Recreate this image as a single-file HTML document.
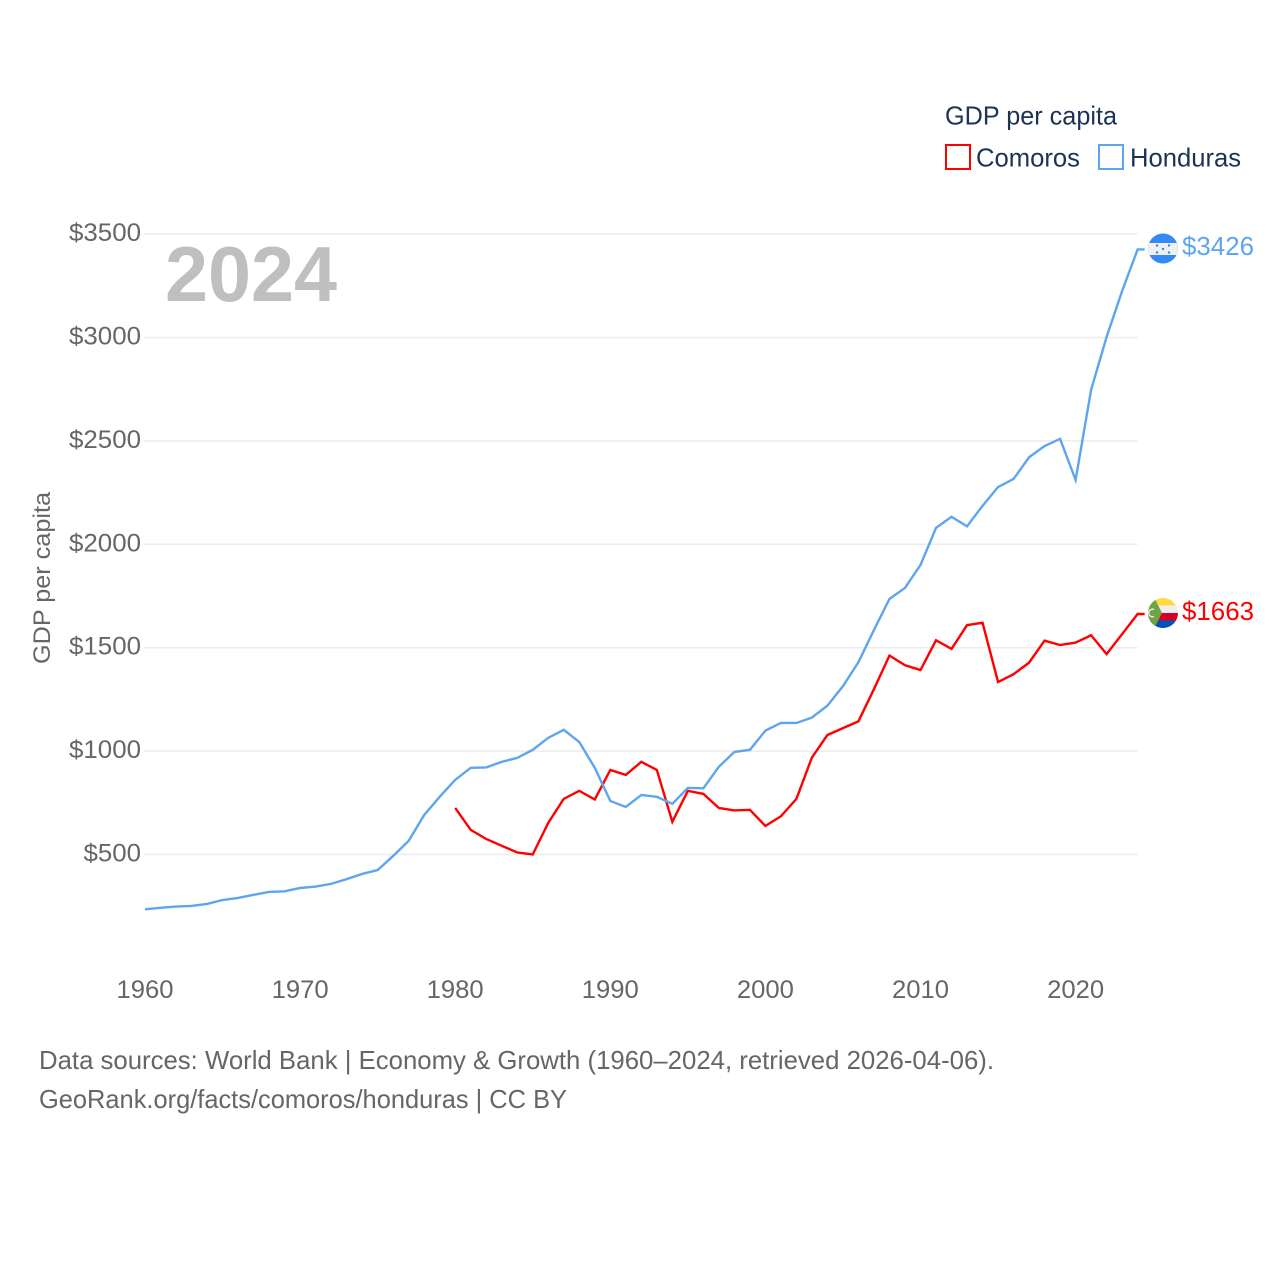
<!DOCTYPE html>
<html lang="en">
<head>
<meta charset="utf-8">
<title>GDP per capita: Comoros vs Honduras</title>
<style>
html,body{margin:0;padding:0;background:#fff;width:1280px;height:1280px;overflow:hidden}
svg{display:block}
text{font-family:"Liberation Sans",sans-serif}
</style>
</head>
<body>
<svg id="chart" width="1280" height="1280" viewBox="0 0 1280 1280" xmlns="http://www.w3.org/2000/svg">
  <defs>
    <clipPath id="hn-clip"><circle cx="1163" cy="248.5" r="15"/></clipPath>
    <clipPath id="km-clip"><circle cx="1163" cy="613" r="15"/></clipPath>
  </defs>
  <g id="grid"></g>
  <g id="yticks"></g>
  <g id="xticks"></g>
  <text x="165" y="301" font-size="78" font-weight="700" fill="#bfbfbf" textLength="172" lengthAdjust="spacingAndGlyphs">2024</text>
  <text transform="translate(50,664) rotate(-90)" font-size="24" fill="#666" textLength="172" lengthAdjust="spacingAndGlyphs">GDP per capita</text>
  <g id="series"></g>
  <g clip-path="url(#hn-clip)">
    <rect x="1148" y="233" width="30" height="31" fill="#338af3"/>
    <rect x="1148" y="243" width="30" height="12" fill="#f0f0f0"/>
    <g fill="#338af3">
      <circle cx="1157" cy="245.5" r="1.2"/><circle cx="1169" cy="245.5" r="1.2"/>
      <circle cx="1163" cy="249" r="1.2"/>
      <circle cx="1157" cy="252.5" r="1.2"/><circle cx="1169" cy="252.5" r="1.2"/>
    </g>
  </g>
  <g clip-path="url(#km-clip)">
    <rect x="1148" y="598" width="30" height="8" fill="#ffda44"/>
    <rect x="1148" y="605.5" width="30" height="7.5" fill="#f0f0f0"/>
    <rect x="1148" y="613" width="30" height="7.5" fill="#d80027"/>
    <rect x="1148" y="620.5" width="30" height="8" fill="#0052b4"/>
    <polygon points="1146,597 1154,597 1162,613 1154,629 1146,629" fill="#6da544"/>
    <path d="M1154,609.5 A3.8,3.8 0 1 0 1154,616.5" fill="none" stroke="#f0f0f0" stroke-width="1.3"/>
  </g>
  <text id="hn-value" x="1182" y="255" font-size="26" fill="#5ea5ee" textLength="72" lengthAdjust="spacingAndGlyphs"></text>
  <text id="km-value" x="1182" y="620" font-size="26" fill="#ff0000" textLength="72" lengthAdjust="spacingAndGlyphs"></text>
  <g>
    <text x="945" y="124.5" font-size="26" fill="#1b3355" textLength="172" lengthAdjust="spacingAndGlyphs">GDP per capita</text>
    <g>
      <rect x="946" y="145" width="24" height="24" fill="#fff" stroke="#ff0000" stroke-width="2"/>
      <text x="976" y="166.5" font-size="26" fill="#1b3355" textLength="104" lengthAdjust="spacingAndGlyphs">Comoros</text>
    </g>
    <g>
      <rect x="1099" y="145" width="24" height="24" fill="#fff" stroke="#5ea5ee" stroke-width="2"/>
      <text x="1130" y="166.5" font-size="26" fill="#1b3355" textLength="111" lengthAdjust="spacingAndGlyphs">Honduras</text>
    </g>
  </g>
  <g>
    <text x="39" y="1069" font-size="26" fill="#666" textLength="955" lengthAdjust="spacingAndGlyphs">Data sources: World Bank | Economy &amp; Growth (1960–2024, retrieved 2026-04-06).</text>
    <text x="39" y="1108" font-size="26" fill="#666" textLength="528" lengthAdjust="spacingAndGlyphs">GeoRank.org/facts/comoros/honduras | CC BY</text>
  </g>
</svg>
<script>
const yTickValues = [500, 1000, 1500, 2000, 2500, 3000, 3500];
const xTickYears = [1960, 1970, 1980, 1990, 2000, 2010, 2020];
const hondurasStartYear = 1960;
const hondurasValues = [235, 242, 248, 251, 261, 280, 290, 305, 319, 322, 338, 345, 358, 381, 406, 425, 493, 566, 691, 779, 861, 919, 921, 948, 967, 1006, 1064, 1103, 1044, 919, 759, 730, 788, 779, 745, 822, 820, 924, 996, 1006, 1099, 1136, 1136, 1162, 1220, 1314, 1430, 1586, 1736, 1789, 1900, 2079, 2133, 2087, 2186, 2277, 2316, 2421, 2475, 2510, 2311, 2747, 3003, 3225, 3426];
const comorosStartYear = 1980;
const comorosValues = [725, 619, 575, 542, 510, 500, 653, 769, 808, 766, 909, 885, 948, 909, 658, 808, 793, 725, 713, 716, 638, 685, 769, 969, 1078, 1111, 1144, 1300, 1462, 1415, 1392, 1536, 1494, 1609, 1621, 1334, 1372, 1428, 1534, 1513, 1525, 1560, 1469, 1566, 1663];

const NS = 'http://www.w3.org/2000/svg';
function xScale(year) { return 145 + (year - 1960) * 15.51; }
function yScale(v) { return 957.9 - v * 0.2068; }
function make(tag, attrs, parent) {
  const el = document.createElementNS(NS, tag);
  for (const k in attrs) el.setAttribute(k, attrs[k]);
  parent.appendChild(el);
  return el;
}
const gridG = document.getElementById('grid');
const yG = document.getElementById('yticks');
const xG = document.getElementById('xticks');
const seriesG = document.getElementById('series');

yTickValues.forEach(function (v) {
  const line = make('line', {x1: 144, x2: 1137.5, y1: yScale(v), y2: yScale(v), stroke: '#ececec', 'stroke-width': 1.5}, gridG);
  
  
  const label = make('text', {x: 141, y: yScale(v) + 7, 'text-anchor': 'end', 'font-size': 25, fill: '#666', textLength: String(v).length * 14.5 + 14, lengthAdjust: 'spacingAndGlyphs'}, yG);
  
  
  label.textContent = '$' + v;
});
xTickYears.forEach(function (yr) {
  const label = make('text', {x: xScale(yr), y: 998, 'text-anchor': 'middle', 'font-size': 25, fill: '#666', textLength: 57, lengthAdjust: 'spacingAndGlyphs'}, xG);
  
  
  label.textContent = String(yr);
});
function drawSeries(values, startYear, color) {
  const pts = values.map(function (v, i) { return xScale(startYear + i).toFixed(2) + ',' + yScale(v).toFixed(2); });
  const lastY = yScale(values[values.length - 1]).toFixed(2);
  pts.push((xScale(startYear + values.length - 1) + 7).toFixed(2) + ',' + lastY);
  return make('polyline', {points: pts.join(' '), fill: 'none', stroke: color, 'stroke-width': 2.4, 'stroke-linejoin': 'miter'}, seriesG);
}
const comorosLine = drawSeries(comorosValues, comorosStartYear, '#ff0000');


const hondurasLine = drawSeries(hondurasValues, hondurasStartYear, '#5ea5ee');


document.getElementById('hn-value').textContent = '$' + hondurasValues[hondurasValues.length - 1];
document.getElementById('km-value').textContent = '$' + comorosValues[comorosValues.length - 1];
</script>
</body>
</html>
